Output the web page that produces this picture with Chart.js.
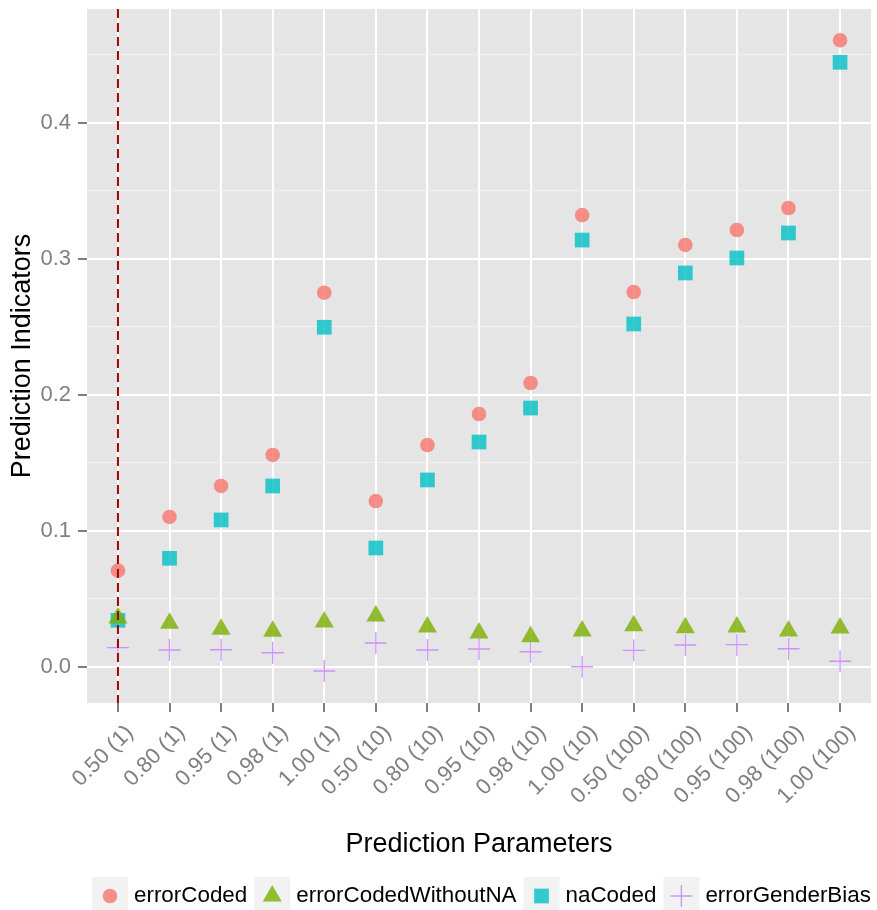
<!DOCTYPE html>
<html>
<head>
<meta charset="utf-8">
<script src="https://cdn.jsdelivr.net/npm/chart.js@4.4.0/dist/chart.umd.min.js"></script>
<style>
  html, body { margin: 0; padding: 0; background: #fff; }
</style>
</head>
<body>
<canvas id="chart" width="877" height="910"></canvas>
<script>
// x categories (prediction parameters)
const categories = ['0.50 (1)', '0.80 (1)', '0.95 (1)', '0.98 (1)', '1.00 (1)',
  '0.50 (10)', '0.80 (10)', '0.95 (10)', '0.98 (10)', '1.00 (10)',
  '0.50 (100)', '0.80 (100)', '0.95 (100)', '0.98 (100)', '1.00 (100)'];

const errorCoded = [0.0706, 0.1101, 0.1329, 0.1557, 0.2750, 0.1218, 0.1630, 0.1858,
  0.2086, 0.3321, 0.2755, 0.3101, 0.3211, 0.3373, 0.4606];
const errorCodedWithoutNA = [0.0358, 0.0319, 0.0275, 0.0260, 0.0329, 0.0373, 0.0292, 0.0248,
  0.0221, 0.0262, 0.0301, 0.0287, 0.0292, 0.0262, 0.0285];
const naCoded = [0.0341, 0.0797, 0.1079, 0.1329, 0.2496, 0.0873, 0.1373, 0.1652,
  0.1902, 0.3137, 0.2520, 0.2895, 0.3005, 0.3189, 0.4444];
const errorGenderBias = [0.0140, 0.0123, 0.0125, 0.0103, -0.0032, 0.0174, 0.0123, 0.0130,
  0.0110, 0.0000, 0.0120, 0.0160, 0.0162, 0.0132, 0.0040];

const yTickValues = [0, 0.05, 0.1, 0.15, 0.2, 0.25, 0.3, 0.35, 0.4, 0.45];
const yMajorTicks = ['0.0', '0.1', '0.2', '0.3', '0.4'];
const cutoffIndex = 0; // where the dashed red line goes

const FONT = '"Liberation Sans", Arial, Helvetica, sans-serif';
Chart.defaults.font.family = FONT;

function isMajor(v) {
  return Math.abs(Math.round(v * 10) - v * 10) < 1e-6;
}

function toPoints(values) {
  return values.map((v, i) => ({ x: i, y: v }));
}

const series = [
  { label: 'errorCoded', data: errorCoded, color: 'rgba(248,118,109,0.8)', style: 'circle', radius: 7.3, border: 0 },
  { label: 'errorCodedWithoutNA', data: errorCodedWithoutNA, color: 'rgba(124,174,0,0.8)', style: 'triangle', radius: 11, border: 0 },
  { label: 'naCoded', data: naCoded, color: 'rgba(0,191,196,0.8)', style: 'rect', radius: 10.4, border: 0 },
  { label: 'errorGenderBias', data: errorGenderBias, color: 'rgba(199,124,255,0.8)', style: 'cross', radius: 11, border: 1.4 }
];

// grey panel behind the grid
const panelBg = {
  id: 'panelBg',
  beforeDraw(chart) {
    const { ctx, chartArea: a } = chart;
    ctx.save();
    ctx.fillStyle = '#E5E5E5';
    ctx.fillRect(a.left, a.top, a.right - a.left, a.bottom - a.top);
    ctx.restore();
  }
};

// dashed vertical reference line
const cutoffLine = {
  id: 'cutoffLine',
  afterDatasetsDraw(chart) {
    const { ctx, chartArea: a, scales } = chart;
    const x = scales.x.getPixelForValue(cutoffIndex);
    ctx.save();
    ctx.strokeStyle = '#A30000';
    ctx.lineWidth = 2;
    ctx.setLineDash([9, 5]);
    ctx.beginPath();
    ctx.moveTo(x, a.top);
    ctx.lineTo(x, a.bottom);
    ctx.stroke();
    ctx.restore();
  }
};

// ggplot-like legend with grey key boxes
const keyLegend = {
  id: 'keyLegend',
  afterDraw(chart) {
    const ctx = chart.ctx;
    ctx.save();
    ctx.font = '22.4px ' + FONT;
    ctx.textBaseline = 'middle';
    let x = 92;
    const top = 877, size = 36, cy = 896;
    series.forEach(s => {
      ctx.fillStyle = '#F2F2F2';
      ctx.fillRect(x, top, size, size);
      ctx.fillStyle = s.color;
      ctx.strokeStyle = s.color;
      ctx.lineWidth = s.border;
      Chart.helpers.drawPoint(ctx, { pointStyle: s.style, radius: s.radius, rotation: 0, borderWidth: s.border }, x + size / 2, cy);
      x += size + 6;
      ctx.fillStyle = '#000';
      ctx.fillText(s.label, x, cy);
      x += ctx.measureText(s.label).width + 7;
    });
    ctx.restore();
  }
};

new Chart(document.getElementById('chart'), {
  type: 'scatter',
  data: {
    datasets: series.map(s => ({
      label: s.label,
      data: toPoints(s.data),
      pointStyle: s.style,
      pointRadius: s.radius,
      pointHoverRadius: s.radius,
      backgroundColor: s.color,
      borderColor: s.color,
      borderWidth: s.border
    }))
  },
  options: {
    responsive: false,
    animation: false,
    events: [],
    layout: { autoPadding: false, padding: { top: 9, right: 6, bottom: 40, left: 0 } },
    plugins: {
      legend: { display: false },
      tooltip: { enabled: false }
    },
    scales: {
      x: {
        type: 'linear',
        min: -0.6,
        max: categories.length - 1 + 0.6,
        afterBuildTicks(scale) {
          scale.ticks = categories.map((_, i) => ({ value: i }));
        },
        afterFit(scale) {
          scale.height = 167;
          scale.paddingLeft = 0;
          scale.paddingRight = 0;
        },
        border: { display: false },
        grid: { color: '#FFFFFF', lineWidth: 2, tickColor: '#7F7F7F', tickLength: 9 },
        ticks: {
          autoSkip: false,
          minRotation: 45,
          maxRotation: 45,
          padding: 8,
          labelOffset: 12,
          color: '#7F7F7F',
          font: { size: 22 },
          callback: (v) => categories[v]
        },
        title: {
          display: true,
          text: 'Prediction Parameters',
          color: '#000',
          font: { size: 27 },
          padding: { top: 0, bottom: 9 }
        }
      },
      y: {
        min: -0.0267,
        max: 0.4836,
        afterBuildTicks(scale) {
          scale.ticks = yTickValues.map(v => ({ value: v }));
        },
        afterFit(scale) {
          scale.width = 87;
          scale.paddingTop = 0;
          scale.paddingBottom = 0;
        },
        border: { display: false },
        grid: {
          color: (c) => isMajor(c.tick.value) ? '#FFFFFF' : '#F2F2F2',
          lineWidth: (c) => isMajor(c.tick.value) ? 2 : 1,
          tickColor: (c) => isMajor(c.tick.value) ? '#7F7F7F' : 'rgba(0,0,0,0)',
          tickLength: 9
        },
        ticks: {
          padding: 7,
          color: '#7F7F7F',
          font: { size: 22 },
          callback: (v) => isMajor(v) ? yMajorTicks[Math.round(v * 10)] : ''
        },
        title: {
          display: true,
          text: 'Prediction Indicators',
          color: '#000',
          font: { size: 27 },
          padding: { top: 6, bottom: 0 }
        }
      }
    }
  },
  plugins: [panelBg, cutoffLine, keyLegend]
});
</script>
</body>
</html>
